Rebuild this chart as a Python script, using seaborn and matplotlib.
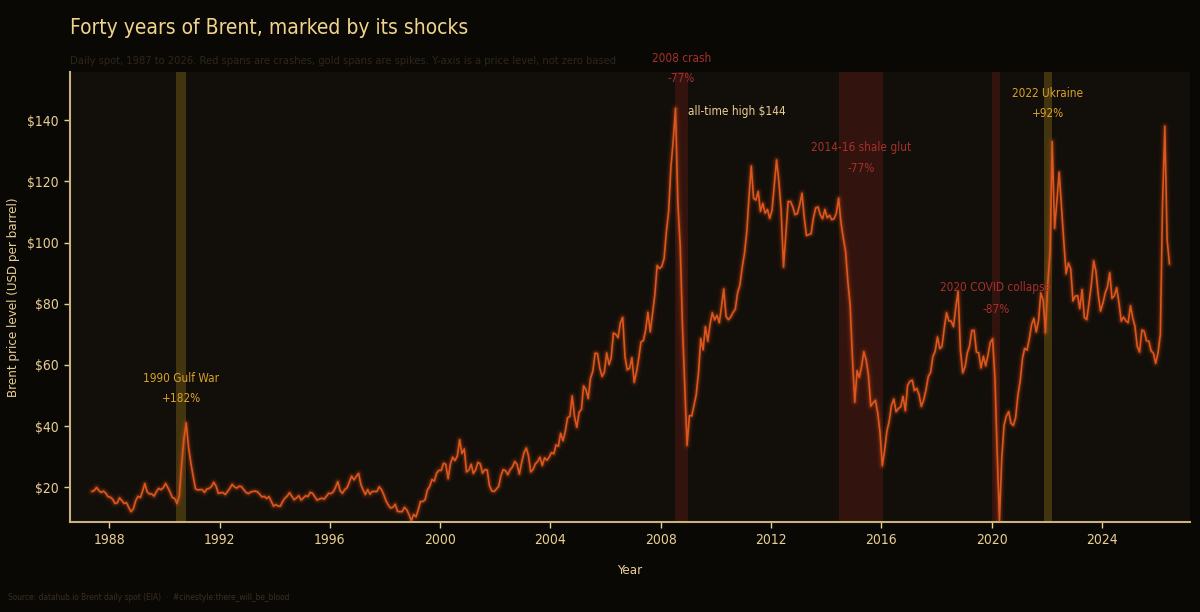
import matplotlib
matplotlib.use("Agg")
import matplotlib.pyplot as plt
import matplotlib.dates as mdates
import matplotlib.ticker as mticker
import numpy as np
import pandas as pd
import seaborn as sns

# Brent spot, one reading per month (mid-month), May 1987 to Jun 2026
prices_1987 = [18.6, 18.9, 19.9, 18.9, 18.3, 18.7, 18.0, 16.9]
prices_by_year = {
    1988: [16.7, 16.0, 14.7, 14.9, 16.5, 15.6, 14.7, 14.9, 13.3, 12.0, 13.0, 15.6],
    1989: [17.0, 16.6, 18.6, 21.2, 18.5, 17.8, 17.8, 17.1, 18.5, 19.6, 19.2, 19.8],
    1990: [21.2, 19.8, 18.4, 16.6, 16.3, 14.7, 17.2, 27.2, 35.9, 41.0, 33.0, 28.0],
    1991: [23.6, 19.5, 19.1, 19.2, 19.2, 18.3, 19.4, 19.6, 20.2, 21.6, 20.3, 18.0],
    1992: [18.2, 18.2, 17.6, 18.6, 19.6, 20.9, 20.1, 19.7, 20.3, 20.2, 19.2, 18.3],
    1993: [17.9, 18.4, 18.6, 18.7, 18.5, 17.7, 16.8, 17.0, 16.3, 16.9, 15.4, 13.8],
    1994: [14.3, 13.8, 13.8, 15.3, 16.4, 17.1, 18.2, 17.0, 15.9, 16.5, 17.2, 15.8],
    1995: [16.5, 17.2, 16.9, 18.3, 18.0, 16.9, 15.8, 16.1, 16.4, 16.1, 17.0, 18.0],
    1996: [17.9, 18.5, 19.9, 21.8, 18.9, 18.0, 19.2, 19.8, 21.7, 23.6, 22.4, 23.5],
    1997: [24.5, 20.8, 19.2, 17.6, 19.2, 17.7, 18.6, 18.6, 18.6, 20.1, 19.2, 17.5],
    1998: [15.4, 14.1, 13.2, 13.4, 14.4, 12.1, 12.0, 12.0, 13.4, 12.6, 11.0, 9.1],
    1999: [11.1, 10.3, 12.5, 15.3, 15.3, 15.9, 19.0, 20.3, 22.5, 22.0, 24.6, 25.5],
    2000: [25.5, 27.8, 27.5, 22.8, 27.6, 29.8, 28.7, 30.2, 35.5, 31.0, 32.5, 25.0],
    2001: [25.6, 27.5, 24.5, 25.7, 28.1, 27.6, 24.6, 25.7, 25.6, 20.5, 18.8, 18.6],
    2002: [19.4, 20.3, 23.7, 25.7, 25.4, 24.1, 25.7, 26.6, 28.4, 27.5, 24.3, 28.0],
    2003: [31.2, 32.8, 30.3, 25.0, 25.8, 27.6, 28.4, 29.8, 27.1, 29.6, 28.8, 29.8],
    2004: [31.3, 30.9, 33.8, 33.4, 37.6, 35.2, 38.2, 42.7, 43.2, 49.8, 43.1, 39.6],
    2005: [44.5, 45.5, 53.1, 51.9, 49.0, 55.6, 57.9, 63.8, 63.7, 59.0, 56.2, 57.6],
    2006: [63.9, 60.1, 62.3, 70.4, 70.0, 68.9, 73.7, 75.5, 62.5, 58.4, 58.9, 62.3],
    2007: [54.3, 57.8, 62.1, 67.5, 67.9, 71.3, 77.2, 70.8, 77.1, 82.9, 92.5, 91.5],
    2008: [92.2, 94.8, 103.3, 110.2, 124.6, 133.5, 143.9, 113.0, 99.1, 72.8, 53.2, 33.7],
    2009: [43.4, 43.3, 46.5, 50.2, 57.3, 68.6, 64.9, 72.5, 67.7, 73.2, 77.0, 74.7],
    2010: [76.2, 73.8, 78.8, 84.8, 75.9, 74.8, 75.6, 77.1, 78.2, 83.5, 86.1, 91.8],
    2011: [96.5, 103.7, 114.6, 125.0, 114.5, 113.9, 116.7, 110.2, 112.8, 109.6, 110.8, 107.9],
    2012: [110.7, 119.3, 127.0, 119.8, 110.3, 92.0, 102.6, 113.4, 113.4, 111.7, 109.1, 109.5],
    2013: [112.3, 116.1, 108.5, 102.3, 102.6, 102.9, 107.9, 111.3, 111.6, 109.1, 107.8, 110.8],
    2014: [108.1, 108.9, 107.5, 107.8, 109.5, 114.5, 106.8, 101.6, 97.1, 87.4, 79.4, 62.3],
    2015: [47.8, 58.1, 55.9, 59.5, 64.3, 61.5, 56.6, 46.5, 47.6, 48.4, 44.3, 38.0],
    2016: [27.0, 32.2, 38.2, 41.6, 46.7, 48.8, 44.7, 45.7, 46.3, 49.7, 45.0, 53.3],
    2017: [54.6, 55.0, 51.6, 52.3, 50.3, 46.4, 48.5, 51.7, 56.2, 57.5, 62.7, 64.4],
    2018: [69.1, 65.3, 66.0, 72.1, 77.0, 74.4, 74.3, 72.5, 78.9, 84.0, 64.7, 57.4],
    2019: [59.4, 64.0, 66.1, 71.2, 71.3, 64.2, 63.9, 59.0, 62.8, 59.7, 63.2, 67.3],
    2020: [68.5, 55.7, 32.0, 9.1, 29.4, 40.3, 43.2, 44.7, 40.9, 40.2, 42.7, 50.0],
    2021: [54.8, 62.3, 65.4, 64.8, 68.5, 73.2, 75.2, 70.8, 74.5, 83.5, 81.1, 70.5],
    2022: [86.5, 97.1, 133.0, 104.6, 113.3, 123.0, 111.9, 100.5, 89.8, 93.3, 91.4, 80.9],
    2023: [82.5, 82.6, 78.4, 84.6, 75.5, 74.8, 80.1, 86.2, 94.0, 90.6, 82.9, 77.6],
    2024: [80.1, 83.5, 85.4, 90.1, 81.8, 82.6, 85.2, 80.4, 74.3, 75.6, 74.4, 73.8],
    2025: [79.3, 75.2, 72.6, 66.0, 64.2, 71.4, 71.0, 67.9, 67.7, 64.6, 63.8, 60.5],
}
prices_2026 = [64.0, 70.0, 112.0, 138.0, 101.0, 93.0]

prices = prices_1987 + [v for y in sorted(prices_by_year) for v in prices_by_year[y]] + prices_2026
dates = pd.date_range("1987-05-01", periods=len(prices), freq="MS") + pd.Timedelta(days=14)
df = pd.DataFrame({"date": dates, "price": prices})

# shock windows: (label, start, end, change, kind, label_y, pct_y)
shocks = [
    ("1990 Gulf War", "1990-06-05", "1990-10-11", "+182%", "spike", 55.6, 49.1),
    ("2008 crash", "2008-07-03", "2008-12-26", "-77%", "crash", 160.3, 153.7),
    ("2014-16 shale glut", "2014-06-19", "2016-01-20", "-77%", "crash", 131.2, 124.3),
    ("2020 COVID collapse", "2020-01-06", "2020-04-21", "-87%", "crash", 85.4, 78.2),
    ("2022 Ukraine", "2021-12-01", "2022-03-08", "+92%", "spike", 148.8, 142.3),
]

BG = "#0a0805"
PANEL = "#120e09"
GOLD = "#e8cf94"
LINE = "#df561d"
RED_TXT = "#a8302c"
GOLD_TXT = "#d9a22a"

sns.set_theme(style="dark")
plt.rcParams["font.family"] = ["DejaVu Sans"]
plt.rcParams["font.stretch"] = "condensed"

fig = plt.figure(figsize=(12, 6.12), dpi=100, facecolor=BG)
ax = fig.add_axes([0.0583, 0.147, 0.9334, 0.735])
ax.set_facecolor(PANEL)

for name, start, end, pct, kind, ly, py in shocks:
    s, e = pd.Timestamp(start), pd.Timestamp(end)
    if kind == "crash":
        ax.axvspan(s, e, color="#5a1a14", alpha=0.45, lw=0, zorder=1)
        tc = RED_TXT
    else:
        ax.axvspan(s, e, color="#6b5414", alpha=0.55, lw=0, zorder=1)
        tc = GOLD_TXT
    mid = s + (e - s) / 2
    ax.text(mid, ly, name, color=tc, fontsize=8.5, ha="center", va="center", clip_on=False, zorder=5)
    ax.text(mid, py, pct, color=tc, fontsize=8.5, ha="center", va="center", clip_on=False, zorder=5)

# glow under the main line
for lw, a in [(7, 0.05), (4.5, 0.1), (2.8, 0.18)]:
    sns.lineplot(data=df, x="date", y="price", ax=ax, color=LINE, lw=lw, alpha=a, zorder=2)
sns.lineplot(data=df, x="date", y="price", ax=ax, color=LINE, lw=1.2, zorder=3)

peak = df.loc[df["price"].idxmax()]
ax.text(peak["date"] + pd.Timedelta(days=170), 143.0, f"all-time high ${peak['price']:.0f}",
        color=GOLD, fontsize=8.5, ha="left", va="center", zorder=5)

ax.set_xlim(pd.Timestamp("1986-07-28"), pd.Timestamp("2027-03-15"))
ax.set_ylim(8.6, 155.7)
ax.xaxis.set_major_locator(mdates.YearLocator(4, month=1, day=1))
ax.xaxis.set_major_formatter(mdates.DateFormatter("%Y"))
ax.set_yticks(range(20, 141, 20))
ax.yaxis.set_major_formatter(mticker.FuncFormatter(lambda v, p: f"${v:.0f}"))

ax.tick_params(colors=GOLD, labelsize=10, length=4, width=1, direction="out",
               bottom=True, left=True, pad=4)
for side in ["top", "right"]:
    ax.spines[side].set_visible(False)
for side in ["left", "bottom"]:
    ax.spines[side].set_visible(True)
    ax.spines[side].set_color("#c9b27c")
    ax.spines[side].set_linewidth(1.5)
ax.grid(False)

ax.set_xlabel("Year", color=GOLD, fontsize=9.5, labelpad=12)
ax.set_ylabel("Brent price level (USD per barrel)", color=GOLD, fontsize=9.5, labelpad=5)

fig.text(0.0583, 0.955, "Forty years of Brent, marked by its shocks", color="#f0d48c",
         fontsize=15, ha="left", va="center")
fig.text(0.0583, 0.90, "Daily spot, 1987 to 2026. Red spans are crashes, gold spans are spikes. "
         "Y-axis is a price level, not zero based", color="#2f2619", fontsize=8,
         ha="left", va="center")
fig.text(0.007, 0.024, "Source: datahub.io Brent daily spot (EIA)  \u00b7  #cinestyle:there_will_be_blood",
         color="#3a2e1f", fontsize=6, ha="left", va="center")

fig.savefig("out.png", dpi=100, facecolor=BG)
